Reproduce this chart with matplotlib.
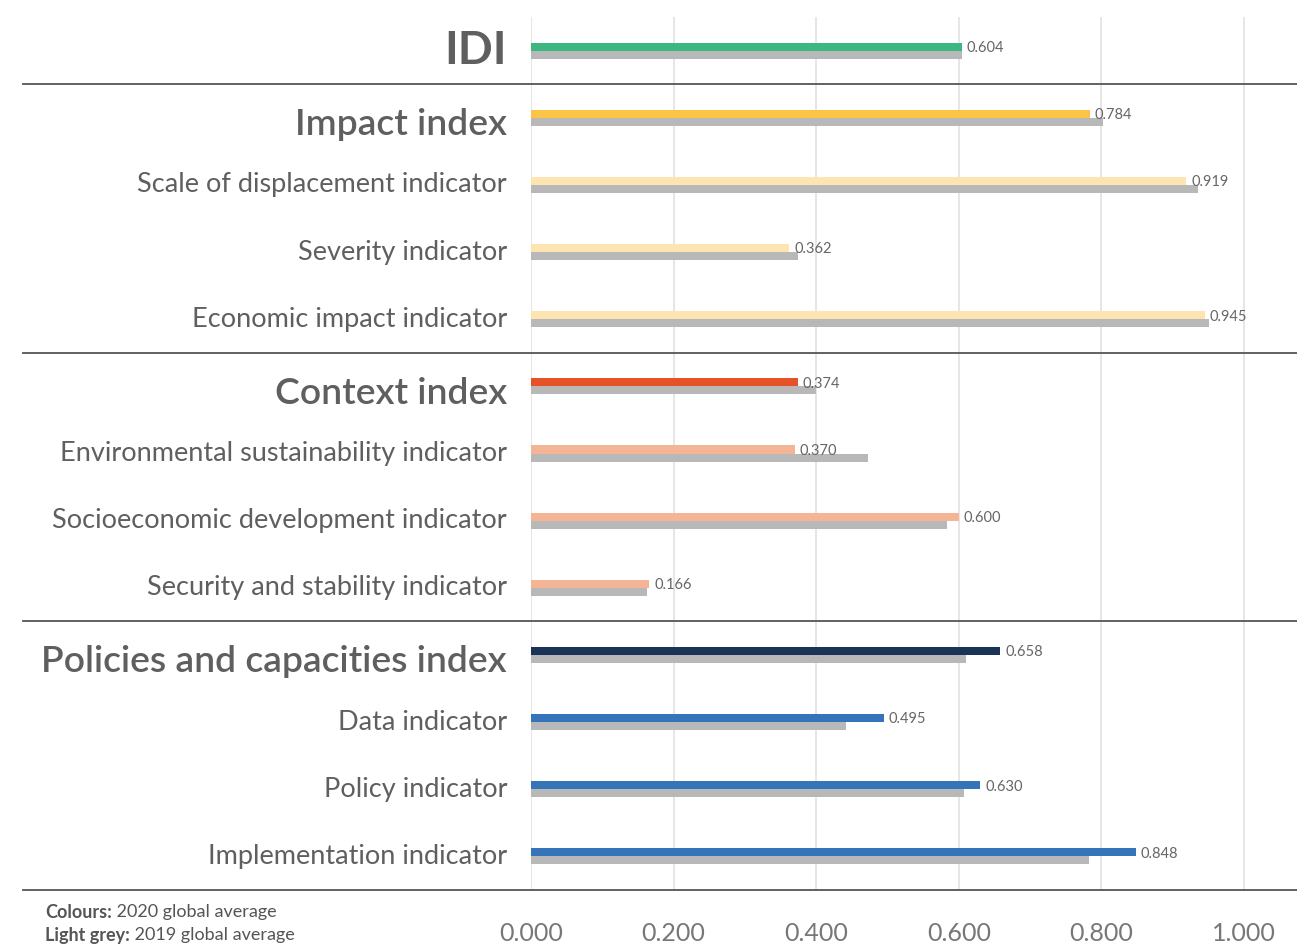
import matplotlib.pyplot as plt
import matplotlib.transforms as mtransforms

plt.rcParams['font.family'] = ['Lato', 'DejaVu Sans']

labels = ['IDI', 'Impact index', 'Scale of displacement indicator', 'Severity indicator',
          'Economic impact indicator', 'Context index', 'Environmental sustainability indicator',
          'Socioeconomic development indicator', 'Security and stability indicator',
          'Policies and capacities index', 'Data indicator', 'Policy indicator',
          'Implementation indicator']
level = ['top', 'head', 'sub', 'sub', 'sub', 'head', 'sub', 'sub', 'sub', 'head', 'sub', 'sub', 'sub']
v2020 = [0.604, 0.784, 0.919, 0.362, 0.945, 0.374, 0.370, 0.600, 0.166, 0.658, 0.495, 0.630, 0.848]
v2019 = [0.604, 0.802, 0.936, 0.375, 0.951, 0.400, 0.473, 0.583, 0.162, 0.610, 0.442, 0.607, 0.783]
colors = ['#3cb77f', '#fbc444', '#fde5b2', '#fde5b2', '#fde5b2', '#e65126', '#f4b597',
          '#f4b597', '#f4b597', '#1b3356', '#3574b8', '#3574b8', '#3574b8']
separators = [0.5, 4.5, 8.5, 12.5]
ticks = [0.0, 0.2, 0.4, 0.6, 0.8, 1.0]

W, H = 1297, 944
fig = plt.figure(figsize=(W / 100, H / 100), dpi=100)
ax = fig.add_axes([531 / W, 1 - 890 / H, (W - 531) / W, (890 - 17) / H])

ypos = list(range(len(labels)))
bh = 0.12
ax.barh([y - bh / 2 for y in ypos], v2020, height=bh, color=colors, zorder=3)
ax.barh([y + bh / 2 for y in ypos], v2019, height=bh, color='#b8b8b8', zorder=2)

# value labels next to the 2020 bars
for y, v in zip(ypos, v2020):
    ax.text(v + 0.007, y - bh / 2 + 0.02, f'{v:.3f}', fontsize=10.5, color='#666666',
            va='center', ha='left', zorder=4)

sizes = {'top': 33, 'head': 26.8, 'sub': 19.5}
weights = {'top': 'bold', 'head': 'semibold', 'sub': 'normal'}
offs = {'top': 0.0, 'head': 0.1, 'sub': 0.0}
trans = mtransforms.blended_transform_factory(fig.transFigure, ax.transData)
for y, lab, lv in zip(ypos, labels, level):
    ax.text(507 / W, y + offs[lv], lab, transform=trans, ha='right', va='center',
            fontsize=sizes[lv], fontweight=weights[lv], color='#5f5f5f')

for s in separators:
    ax.axhline(s, xmin=(23 - 531) / (W - 531), xmax=1, color='#555555', lw=1.3,
               clip_on=False, zorder=5)

ax.set_xlim(0, (W - 531) / 713)
ax.set_ylim(12.5, -0.5)
ax.set_xticks(ticks)
ax.set_xticklabels([f'{t:.3f}' for t in ticks], fontsize=18, color='#777777')
ax.tick_params(axis='x', length=0, pad=23)
ax.set_yticks([])
ax.grid(axis='x', color='#e2e2e2', lw=1.2, zorder=0)
for sp in ax.spines.values():
    sp.set_visible(False)

# footnote
t1 = fig.text(45 / W, 1 - 912 / H, 'Colours:', fontsize=13, fontweight='bold',
              color='#555555', va='center')
ax.annotate(' 2020 global average', xy=(1, 0.5), xycoords=t1, fontsize=13,
            color='#555555', va='center', ha='left')
t2 = fig.text(45 / W, 1 - 935 / H, 'Light grey:', fontsize=13, fontweight='bold',
              color='#555555', va='center')
ax.annotate(' 2019 global average', xy=(1, 0.5), xycoords=t2, fontsize=13,
            color='#555555', va='center', ha='left')

fig.savefig('out.png', dpi=100)
